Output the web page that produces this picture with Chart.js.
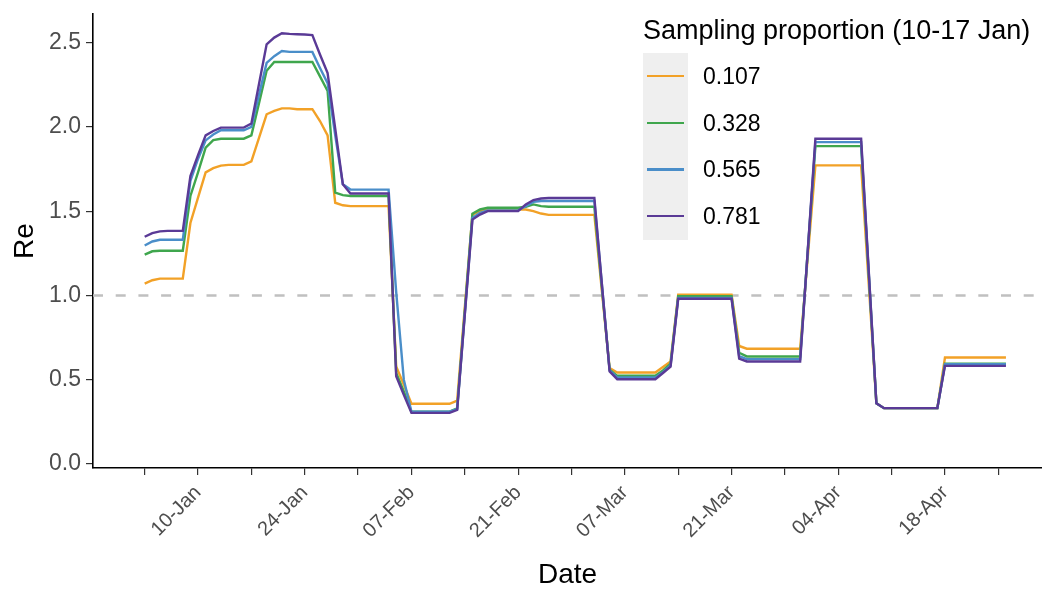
<!DOCTYPE html>
<html>
<head>
<meta charset="utf-8">
<script src="https://cdn.jsdelivr.net/npm/chart.js@4.4.1/dist/chart.umd.min.js"></script>
<style>
  html, body { margin: 0; padding: 0; background: #fff; }
  #wrap { position: relative; width: 1042px; height: 589px; font-family: "Liberation Sans", Arial, Helvetica, sans-serif; }
  #chart { position: absolute; left: 0; top: 0; }
  #legend { position: absolute; left: 643px; top: 14px; }
  #legend .title { font-size: 27px; color: #000; white-space: nowrap; line-height: 32px; margin-bottom: 7px; }
  #legend .row { display: flex; align-items: center; height: 46.7px; }
  #legend .key { width: 45px; height: 46.7px; background: #efefef; position: relative; }
  #legend .key span { position: absolute; left: 4px; right: 4px; top: 22px; height: 2.4px; }
  #legend .lab { font-size: 23px; color: #000; margin-left: 15px; }
</style>
</head>
<body>
<div id="wrap">
  <canvas id="chart" width="1042" height="589"></canvas>
  <div id="legend"></div>
</div>
<script>
// day of year (2021), 3 Jan .. 26 Apr
const DAYS = Array.from({ length: 114 }, (_, i) => i + 3);

// weekly axis ticks, labelled every second week
const WEEK_TICKS = [3, 10, 17, 24, 31, 38, 45, 52, 59, 66, 73, 80, 87, 94, 101, 108, 115];
const TICK_DAYS = [10, 24, 38, 52, 66, 80, 94, 108];
const TICK_LABELS = ["10-Jan", "24-Jan", "07-Feb", "21-Feb", "07-Mar", "21-Mar", "04-Apr", "18-Apr"];
const Y_TICKS = [0, 0.5, 1, 1.5, 2, 2.5];
const REF_LINE = 1;

const SERIES_NAMES = ["0.107", "0.328", "0.565", "0.781"];
const COLORS = ["#f2a127", "#3fa64d", "#4a8ec9", "#5a3a96"];

// Re, one value per day (rows are weeks starting 3 Jan)
const re107 = [
  1.07, 1.09, 1.10, 1.10, 1.10, 1.10, 1.43,
  1.58, 1.73, 1.755, 1.77, 1.775, 1.775, 1.775,
  1.795, 1.935, 2.075, 2.095, 2.11, 2.11, 2.105,
  2.105, 2.105, 2.035, 1.95, 1.55, 1.535, 1.53,
  1.53, 1.53, 1.53, 1.53, 1.53, 0.578, 0.47,
  0.357, 0.357, 0.357, 0.357, 0.357, 0.357, 0.376,
  0.93, 1.48, 1.50, 1.51, 1.51, 1.51, 1.51,
  1.51, 1.51, 1.50, 1.486, 1.478, 1.478, 1.478,
  1.478, 1.478, 1.478, 1.478, 1.02, 0.569, 0.543,
  0.543, 0.543, 0.543, 0.543, 0.543, 0.575, 0.608,
  1.005, 1.005, 1.005, 1.005, 1.005, 1.005, 1.005,
  1.005, 0.70, 0.684, 0.684, 0.684, 0.684, 0.684,
  0.684, 0.684, 0.684, 1.228, 1.772, 1.772, 1.772,
  1.772, 1.772, 1.772, 1.772, 1.066, 0.36, 0.331,
  0.331, 0.331, 0.331, 0.331, 0.331, 0.331, 0.331,
  0.632, 0.632, 0.632, 0.632, 0.632, 0.632, 0.632,
  0.632, 0.632
];
const re328 = [
  1.242, 1.262, 1.265, 1.265, 1.265, 1.265, 1.59,
  1.73, 1.877, 1.922, 1.93, 1.93, 1.93, 1.93,
  1.95, 2.14, 2.333, 2.385, 2.385, 2.385, 2.385,
  2.385, 2.385, 2.30, 2.213, 1.61, 1.595, 1.59,
  1.59, 1.59, 1.59, 1.59, 1.59, 0.54, 0.43,
  0.31, 0.31, 0.31, 0.31, 0.31, 0.31, 0.33,
  0.905, 1.485, 1.51, 1.52, 1.52, 1.52, 1.52,
  1.52, 1.526, 1.54, 1.53, 1.526, 1.526, 1.526,
  1.526, 1.526, 1.526, 1.526, 1.04, 0.56, 0.523,
  0.523, 0.523, 0.523, 0.523, 0.523, 0.555, 0.595,
  0.995, 0.995, 0.995, 0.995, 0.995, 0.995, 0.995,
  0.995, 0.66, 0.638, 0.638, 0.638, 0.638, 0.638,
  0.638, 0.638, 0.638, 1.262, 1.886, 1.886, 1.886,
  1.886, 1.886, 1.886, 1.886, 1.123, 0.36, 0.331,
  0.331, 0.331, 0.331, 0.331, 0.331, 0.331, 0.331,
  0.595, 0.595, 0.595, 0.595, 0.595, 0.595, 0.595,
  0.595, 0.595
];
const re565 = [
  1.296, 1.32, 1.33, 1.33, 1.33, 1.33, 1.68,
  1.81, 1.92, 1.955, 1.98, 1.98, 1.98, 1.98,
  2.00, 2.19, 2.38, 2.42, 2.45, 2.445, 2.445,
  2.445, 2.445, 2.35, 2.26, 1.95, 1.66, 1.628,
  1.628, 1.628, 1.628, 1.628, 1.628, 1.02, 0.50,
  0.31, 0.31, 0.31, 0.31, 0.31, 0.31, 0.325,
  0.89, 1.46, 1.49, 1.505, 1.505, 1.505, 1.505,
  1.505, 1.53, 1.555, 1.56, 1.56, 1.56, 1.56,
  1.56, 1.56, 1.56, 1.56, 1.06, 0.555, 0.513,
  0.513, 0.513, 0.513, 0.513, 0.513, 0.545, 0.585,
  0.985, 0.985, 0.985, 0.985, 0.985, 0.985, 0.985,
  0.985, 0.64, 0.622, 0.622, 0.622, 0.622, 0.622,
  0.622, 0.622, 0.622, 1.266, 1.91, 1.91, 1.91,
  1.91, 1.91, 1.91, 1.91, 1.135, 0.36, 0.331,
  0.331, 0.331, 0.331, 0.331, 0.331, 0.331, 0.331,
  0.592, 0.592, 0.592, 0.592, 0.592, 0.592, 0.592,
  0.592, 0.592
];
const re781 = [
  1.348, 1.37, 1.38, 1.383, 1.383, 1.383, 1.708,
  1.833, 1.95, 1.976, 1.996, 1.996, 1.996, 1.996,
  2.02, 2.255, 2.49, 2.53, 2.556, 2.552, 2.55,
  2.548, 2.545, 2.43, 2.32, 1.99, 1.66, 1.605,
  1.605, 1.605, 1.605, 1.605, 1.605, 0.52, 0.41,
  0.303, 0.303, 0.303, 0.303, 0.303, 0.303, 0.321,
  0.885, 1.45, 1.48, 1.50, 1.50, 1.50, 1.50,
  1.50, 1.54, 1.566, 1.575, 1.578, 1.578, 1.578,
  1.578, 1.578, 1.578, 1.578, 1.06, 0.549, 0.503,
  0.503, 0.503, 0.503, 0.503, 0.503, 0.54, 0.578,
  0.98, 0.98, 0.98, 0.98, 0.98, 0.98, 0.98,
  0.98, 0.625, 0.608, 0.608, 0.608, 0.608, 0.608,
  0.608, 0.608, 0.608, 1.269, 1.93, 1.93, 1.93,
  1.93, 1.93, 1.93, 1.93, 1.145, 0.36, 0.331,
  0.331, 0.331, 0.331, 0.331, 0.331, 0.331, 0.331,
  0.582, 0.582, 0.582, 0.582, 0.582, 0.582, 0.582,
  0.582, 0.582
];
const SERIES = [re107, re328, re565, re781];

const FONT = "'Liberation Sans', Arial, Helvetica, sans-serif";

// dashed Re = 1 line behind the series
const refLine = {
  id: "refLine",
  beforeDatasetsDraw(chart) {
    const { ctx, chartArea, scales } = chart;
    const y = scales.y.getPixelForValue(REF_LINE);
    ctx.save();
    ctx.strokeStyle = "#c0c0c0";
    ctx.lineWidth = 2.4;
    ctx.setLineDash([10, 12.7]);
    ctx.beginPath();
    ctx.moveTo(chartArea.left, y);
    ctx.lineTo(chartArea.right, y);
    ctx.stroke();
    ctx.restore();
  }
};

new Chart(document.getElementById("chart"), {
  type: "line",
  data: {
    labels: DAYS,
    datasets: SERIES.map((vals, i) => ({
      label: SERIES_NAMES[i],
      data: vals,
      borderColor: COLORS[i],
      borderWidth: 2.4,
      pointRadius: 0,
      tension: 0,
      fill: false,
      order: SERIES.length - i
    }))
  },
  options: {
    responsive: false,
    animation: false,
    devicePixelRatio: 1,
    layout: { padding: { top: 14, right: 0, left: 0, bottom: 0 } },
    plugins: { legend: { display: false }, tooltip: { enabled: false } },
    scales: {
      x: {
        type: "linear",
        min: -3.78,
        max: 120.73,
        afterBuildTicks: s => { s.ticks = WEEK_TICKS.map(v => ({ value: v })); },
        afterFit: s => { s.height = 121; s.paddingLeft = 0; s.paddingRight = 0; },
        border: { display: true, color: "#000", width: 1.6 },
        grid: { display: true, drawOnChartArea: false, drawTicks: true, tickLength: 7, tickColor: "#333", lineWidth: 1.2 },
        ticks: {
          autoSkip: false,
          minRotation: 45,
          maxRotation: 45,
          padding: 6,
          color: "#4d4d4d",
          font: { family: FONT, size: 20 },
          callback: v => {
            const k = TICK_DAYS.indexOf(v);
            return k >= 0 ? TICK_LABELS[k] : "";
          }
        },
        title: {
          display: true,
          text: "Date",
          color: "#000",
          font: { family: FONT, size: 28, lineHeight: 1 },
          padding: { top: 0, bottom: 0 }
        }
      },
      y: {
        min: -0.024,
        max: 2.67,
        afterBuildTicks: s => { s.ticks = Y_TICKS.map(v => ({ value: v })); },
        afterFit: s => { s.width = 93; s.paddingTop = 0; s.paddingBottom = 0; },
        border: { display: true, color: "#000", width: 1.6 },
        grid: { display: true, drawOnChartArea: false, drawTicks: true, tickLength: 7, tickColor: "#333", lineWidth: 1.2 },
        ticks: {
          padding: 5,
          color: "#4d4d4d",
          font: { family: FONT, size: 23 },
          callback: v => v.toFixed(1)
        },
        title: {
          display: true,
          text: "Re",
          color: "#000",
          font: { family: FONT, size: 28 },
          padding: { top: 8, bottom: 0 }
        }
      }
    }
  },
  plugins: [refLine]
});

// ggplot-style legend with grey key boxes
const legend = document.getElementById("legend");
legend.innerHTML = `<div class="title">Sampling proportion (10-17 Jan)</div>` +
  SERIES_NAMES.map((name, i) => `
    <div class="row">
      <div class="key"><span style="background:${COLORS[i]}"></span></div>
      <div class="lab">${name}</div>
    </div>`).join("");
</script>
</body>
</html>
